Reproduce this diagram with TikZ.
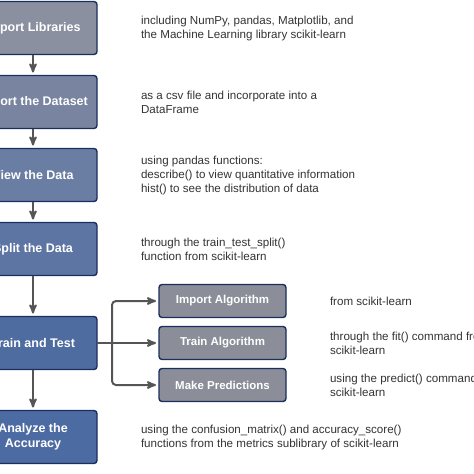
\documentclass[tikz,border=0pt]{standalone}
\usepackage{fontspec}
\setmainfont{Liberation Sans}
\usetikzlibrary{arrows}
\usetikzlibrary{positioning}
\definecolor{navy}{HTML}{1B2E5E}
\definecolor{fill_lib}{HTML}{8A909F}
\definecolor{fill_data}{HTML}{7884A0}
\definecolor{fill_view}{HTML}{6A7DA3}
\definecolor{fill_split}{HTML}{5C75A3}
\definecolor{fill_train}{HTML}{4F6CA0}
\definecolor{fill_acc}{HTML}{4C6BA2}
\definecolor{fill_sub}{HTML}{8B8E98}
\definecolor{note_gray}{HTML}{333333}
\definecolor{arrow_gray}{HTML}{555555}
\tikzset{
	stepnode/.style = {
		rectangle,
		rounded corners=3pt,
		align=center,
		inner sep=0pt,
		outer sep=0pt,
		draw=navy,
		line width=1.4pt,
		text=white,
		font=\bfseries\fontsize{12.5}{15}\selectfont,
		minimum width=128pt,
		minimum height=53pt
	},
	node_lib/.style = {stepnode, fill=fill_lib},
	node_data/.style = {stepnode, fill=fill_data},
	node_view/.style = {stepnode, fill=fill_view},
	node_split/.style = {stepnode, fill=fill_split},
	node_train/.style = {stepnode, fill=fill_train},
	node_acc/.style = {stepnode, fill=fill_acc},
	node_sub/.style = {
		stepnode,
		fill=fill_sub,
		font=\bfseries\fontsize{11.5}{14}\selectfont,
		minimum width=127pt,
		minimum height=33pt
	},
	node_note/.style = {
		align=left,
		inner sep=0pt,
		outer sep=0pt,
		text=note_gray,
		font=\fontsize{11.6}{14}\selectfont
	},
	flow/.style = {
		->,
		>=stealth',
		line width=2pt,
		shorten >=3pt,
		draw=arrow_gray
	},
}
\begin{document}
\begin{tikzpicture}[x=1pt,y=-1pt]
\useasboundingbox (0,0) rectangle (474,474);
\clip (0,0) rectangle (474,474);

% main steps
\node [node_lib] (libs) at (33,28) {Import Libraries};
\node [node_data, below=21pt of libs] (dataset) {Import the Dataset};
\node [node_view, below=20pt of dataset] (view) {View the Data};
\node [node_split, below=21pt of view] (split) {Split the Data};
\node [node_train, below=41pt of split] (train) {Train and Test};
\node [node_acc, below=41pt of train] (acc) {Analyze the\\Accuracy};

% sub steps of training
\node [node_sub, right=62pt of train] (trainalg) {Train Algorithm};
\node [node_sub, above=9pt of trainalg] (impalg) {Import Algorithm};
\node [node_sub, below=9pt of trainalg] (predict) {Make Predictions};
\coordinate [right=15pt of train] (fork);

% notes
\node [node_note, right=44pt of libs] (n_libs) {including NumPy, pandas, Matplotlib, and\\the Machine Learning library scikit-learn};
\node [node_note, right=44pt of dataset] (n_data) {as a csv file and incorporate into a\\DataFrame};
\node [node_note, right=44pt of view] (n_view) {using pandas functions:\\describe() to view quantitative information\\hist() to see the distribution of data};
\node [node_note, right=44pt of split] (n_split) {through the train\_test\_split()\\function from scikit-learn};
\node [node_note, right=44pt of acc] (n_acc) {using the confusion\_matrix() and accuracy\_score()\\functions from the metrics sublibrary of scikit-learn};
\node [node_note, right=44pt of impalg] (n_imp) {from scikit-learn};
\node [node_note, right=44pt of trainalg] (n_fit) {through the fit() command from\\scikit-learn};
\node [node_note, right=44pt of predict] (n_pred) {using the predict() command from\\scikit-learn};

% arrows
\draw [flow] (libs) -- (dataset);
\draw [flow] (dataset) -- (view);
\draw [flow] (view) -- (split);
\draw [flow] (split) -- (train);
\draw [flow] (train) -- (acc);
\draw [flow] (train) -- (trainalg);
\draw [flow, rounded corners=4pt] (fork) |- (impalg);
\draw [flow, rounded corners=4pt] (fork) |- (predict);
\end{tikzpicture}
\end{document}
